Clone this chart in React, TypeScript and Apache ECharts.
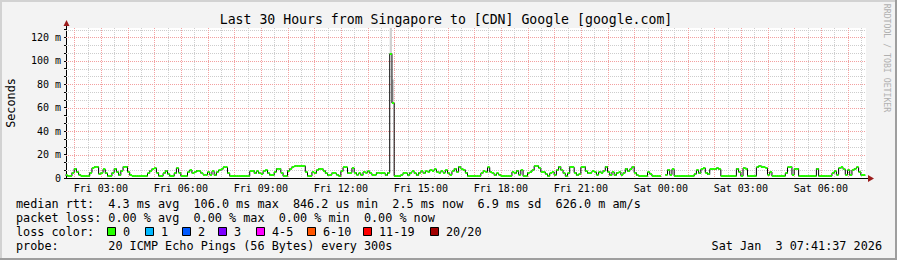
import React, { useEffect, useRef } from "react";
import * as echarts from "echarts";

const TITLE = "Last 30 Hours from Singapore to [CDN] Google [google.com]";
const Y_AXIS_NAME = "Seconds";
const WATERMARK = "RRDTOOL / TOBI OETIKER";

// time window in hours counted from Fri 00:00
const windowStartHour = 1 + 41 / 60 + 37 / 3600;
const windowHours = 30;
const firstSampleHour = 1 + 40 / 60;
const sampleStepMinutes = 5;

const xTickHours = [3, 6, 9, 12, 15, 18, 21, 24, 27, 30];
const xTickLabels = [
  "Fri 03:00", "Fri 06:00", "Fri 09:00", "Fri 12:00", "Fri 15:00",
  "Fri 18:00", "Fri 21:00", "Sat 00:00", "Sat 03:00", "Sat 06:00",
];
const yTickValues = [0, 20, 40, 60, 80, 100, 120];
const yTickLabels = ["0", "20 m", "40 m", "60 m", "80 m", "100 m", "120 m"];
const yMax = 128;

// median RTT in ms, one value per 5-minute sample
const medianMs: (number | null)[] = [
  2.5, 1.6, 1.6, 4.6, 8.0, 5.1, 2.8, 1.6, 1.6, 1.6,
  1.6, 4.6, 8.5, 9.5, 9.5, 3.4, 4.6, 7.4, 4.0, 1.6,
  1.6, 4.6, 8.0, 5.1, 2.3, 6.3, 9.7, 9.7, 5.1, 2.3,
  1.6, 1.6, 1.6, 1.6, 1.6, 1.6, 1.6, 4.0, 6.3, 8.0,
  8.5, 4.6, 1.6, 1.6, 4.0, 6.3, 3.4, 1.6, 1.6, 4.0,
  8.5, 4.6, 1.6, 1.6, 1.6, 5.1, 6.8, 4.0, 5.1, 6.3,
  5.7, 4.0, 2.8, 2.8, 5.1, 2.8, 5.7, 2.3, 5.1, 6.8,
  7.4, 9.1, 9.1, 4.0, 1.6, 1.6, 1.6, 1.6, 1.6, 1.6,
  1.6, 1.6, 1.6, 5.7, 6.3, 4.0, 5.7, 4.0, 3.4, 5.7,
  6.8, 4.0, 2.3, 2.3, 5.1, 8.0, 8.0, 4.6, 1.6, 1.6,
  6.3, 8.0, 9.7, 10.3, 10.3, 10.3, 10.3, 10.3, 5.1, 1.6,
  1.6, 5.1, 4.0, 6.8, 8.0, 8.0, 6.3, 4.0, 2.3, 2.8,
  4.6, 4.0, 2.8, 1.6, 5.7, 9.1, 9.1, 4.0, 4.6, 8.5,
  4.6, 2.8, 4.0, 2.3, 5.1, 4.6, 5.7, 4.0, 2.3, 2.8,
  4.6, 4.0, 4.0, 4.0, 2.3, 4.5, 106.0, 64.0, 1.6, 1.6,
  1.6, 2.8, 4.6, 4.0, 2.3, 4.6, 5.7, 4.0, 2.3, 4.6,
  5.7, 4.0, 5.7, 5.1, 6.8, 6.3, 7.4, 5.1, 4.6, 5.7,
  4.6, 6.8, 4.0, 2.8, 5.7, 8.0, 5.1, 9.7, 8.0, 7.0,
  4.6, 1.6, 1.6, 1.6, 1.6, 1.6, 1.6, 4.0, 5.7, 5.1,
  9.1, 5.1, 4.0, 2.3, 4.0, 2.8, 1.6, 1.6, 1.6, 1.6,
  1.6, 5.1, 4.0, 6.3, 2.8, 6.8, 1.6, 1.6, 4.6, 5.1,
  6.8, 10.3, 10.3, 8.5, 5.1, 5.1, 3.4, 1.6, 4.0, 5.1,
  2.5, 6.8, 9.7, 6.8, 4.0, 1.6, 4.0, 9.7, 9.1, 4.6,
  2.3, 3.4, 9.1, 9.7, 5.7, 4.0, 4.6, 5.7, 5.1, 2.8,
  5.1, 4.6, 6.3, 9.7, 5.1, 2.3, 5.1, 2.3, 4.6, 5.1,
  2.8, 4.6, 8.0, 5.7, 7.4, 9.7, 4.6, 2.3, 1.6, 1.6,
  1.6, 1.6, 5.1, 3.4, 1.6, 1.6, 1.6, 1.6, null, null,
  2.8, 7.0, 2.8, 7.4, 1.6, 1.6, 1.6, 1.6, 1.6, 1.6,
  1.6, 1.6, 1.6, 3.4, 6.8, 4.0, 7.4, 8.5, 4.6, 3.0,
  7.4, 7.4, 7.4, 8.5, 7.4, 1.6, 1.6, 1.6, 1.6, 1.6,
  1.6, 1.6, 8.0, 5.0, 1.6, 8.5, 8.0, 1.6, 1.6, 1.6,
  1.6, 9.1, 10.3, 9.7, 9.1, 8.5, 2.8, 5.1, 1.6, 1.6,
  1.6, 1.6, 1.6, 1.6, 4.0, 9.1, 9.7, 2.8, 8.0, 8.0,
  1.6, 1.6, 1.6, 1.6, 1.6, 1.6, 1.6, 1.6, 8.0, 1.6,
  1.6, 1.6, 1.6, 1.6, 1.6, 4.0, 5.7, 2.8, 8.5, 9.1,
  7.4, 2.8, 6.8, 2.3, 6.8, 8.0, 9.1, 5.1, 2.3, 2.3,
];

// smoke (spread of the pings) where it is visible
const smokeSamples = [146, 147];
const smokeLowMs = [106, 64];
const smokeHighMs = [140, 84];

const statsLine1 = ["median rtt:", "4.3 ms avg", "106.0 ms max", "846.2 us min", "2.5 ms now", "6.9 ms sd", "626.0 m am/s"];
const statsLine2 = ["packet loss:", "0.00 % avg", "0.00 % max", "0.00 % min", "0.00 % now"];
const lossTitle = "loss color:";
const lossLabels = ["0", "1", "2", "3", "4-5", "6-10", "11-19", "20/20"];
const lossColors = ["#26ff00", "#00b8ff", "#0059ff", "#7e00ff", "#ff00ff", "#ff5500", "#ff0000", "#a10000"];
const probeLabel = "probe:";
const probeText = "20 ICMP Echo Pings (56 Bytes) every 300s";
const timestampText = "Sat Jan  3 07:41:37 2026";

// layout
const W = 897;
const H = 260;
const PLOT_L = 66;
const PLOT_T = 28;
const PLOT_W = 800;
const PLOT_H = 150;
const MONO = "'DejaVu Sans Mono', 'Liberation Mono', monospace";
const LEG_FS = 11.8;
const CHAR_W = 7.1;
const LEG_X0 = 16;
const line1Col = [0, 13, 25, 39, 53, 65, 76];
const line2Col = [0, 13, 25, 37, 49];
const lossBoxX = [107, 145, 182, 218, 256, 307, 363, 430];
const legendRowY = [204, 218, 232, 246];

export default function App() {
  const ref = useRef<HTMLDivElement>(null);

  useEffect(() => {
    if (!ref.current) return;
    const chart = echarts.init(ref.current, undefined, { renderer: "svg" });

    const hourOf = (k: number) => firstSampleHour + (k * sampleStepMinutes) / 60;
    const windowEndHour = windowStartHour + windowHours;

    const stepLine: [number, number | null][] = medianMs.map((v, k) => [hourOf(k), v]);
    stepLine.push([hourOf(medianMs.length), medianMs[medianMs.length - 1]]);

    const segs = medianMs.map((v, k) => [hourOf(k), hourOf(k + 1), v == null ? NaN : v]);
    const smoke = smokeSamples.map((k, i) => [hourOf(k), hourOf(k + 1), smokeLowMs[i], smokeHighMs[i]]);

    // grid lines: [axis (0 = x, 1 = y), value, major]
    const gridLines: number[][] = [];
    for (let h = Math.ceil(windowStartHour * 2) / 2; h < windowEndHour; h += 0.5) {
      gridLines.push([0, h, Number.isInteger(h) ? 1 : 0]);
    }
    const yAllTicks: number[] = [0];
    for (let i = 1; i * (20 / 3) < yMax; i++) {
      const v = (i * 20) / 3;
      yAllTicks.push(v);
      gridLines.push([1, v, i % 3 === 0 ? 1 : 0]);
    }
    gridLines.sort((a, b) => a[2] - b[2]);

    const texts: any[] = [];
    const addText = (x: number, y: number, text: string, extra: any = {}) =>
      texts.push({
        type: "text",
        x,
        y,
        style: {
          text,
          fontFamily: MONO,
          fontSize: LEG_FS,
          fill: "#000",
          verticalAlign: "middle",
          textAlign: "left",
          ...extra,
        },
        silent: true,
      });

    addText(446, 19, TITLE, { textAlign: "center", fontSize: 13.2 });
    texts.push({
      type: "text",
      x: 11,
      y: 103,
      rotation: Math.PI / 2,
      style: { text: Y_AXIS_NAME, fontFamily: MONO, fontSize: LEG_FS, fill: "#000", textAlign: "center", verticalAlign: "middle" },
      silent: true,
    });
    texts.push({
      type: "text",
      x: 887,
      y: 58,
      rotation: -Math.PI / 2,
      style: { text: WATERMARK, fontFamily: MONO, fontSize: 8.2, fill: "#b0b0b0", textAlign: "center", verticalAlign: "middle" },
      silent: true,
    });

    statsLine1.forEach((t, i) => addText(LEG_X0 + line1Col[i] * CHAR_W, legendRowY[0], t));
    statsLine2.forEach((t, i) => addText(LEG_X0 + line2Col[i] * CHAR_W, legendRowY[1], t));
    addText(LEG_X0, legendRowY[2], lossTitle);
    lossLabels.forEach((t, i) => {
      const bx = lossBoxX[i];
      texts.push({
        type: "rect",
        shape: { x: bx + 0.5, y: legendRowY[2] - 4.5, width: 8, height: 8 },
        style: { fill: lossColors[i], stroke: "#000", lineWidth: 1 },
        silent: true,
      });
      addText(bx + 16, legendRowY[2], t);
    });
    addText(LEG_X0, legendRowY[3], probeLabel);
    addText(LEG_X0 + 13 * CHAR_W, legendRowY[3], probeText);
    addText(882, legendRowY[3], timestampText, { textAlign: "right" });

    // frame shading
    const frame = [
      { type: "rect", shape: { x: 0, y: 0, width: W, height: 2 }, style: { fill: "#d2d2d2" } },
      { type: "rect", shape: { x: 0, y: 0, width: 2, height: H }, style: { fill: "#d2d2d2" } },
      { type: "rect", shape: { x: 0, y: H - 2, width: W, height: 2 }, style: { fill: "#9e9e9e" } },
      { type: "rect", shape: { x: W - 2, y: 0, width: 2, height: H }, style: { fill: "#9e9e9e" } },
    ];

    // axis arrows
    const arrows = [
      { type: "line", shape: { x1: PLOT_L + 0.5, y1: PLOT_T, x2: PLOT_L + 0.5, y2: PLOT_T - 3 }, style: { stroke: "#000", lineWidth: 1 } },
      { type: "polygon", shape: { points: [[PLOT_L - 2.5, PLOT_T - 2], [PLOT_L + 3.5, PLOT_T - 2], [PLOT_L + 0.5, PLOT_T - 8]] }, style: { fill: "#9b1c1c" } },
      { type: "line", shape: { x1: PLOT_L + PLOT_W, y1: PLOT_T + PLOT_H + 0.5, x2: PLOT_L + PLOT_W + 3, y2: PLOT_T + PLOT_H + 0.5 }, style: { stroke: "#000", lineWidth: 1 } },
      { type: "polygon", shape: { points: [[PLOT_L + PLOT_W + 2, PLOT_T + PLOT_H - 3], [PLOT_L + PLOT_W + 2, PLOT_T + PLOT_H + 4], [PLOT_L + PLOT_W + 8, PLOT_T + PLOT_H + 0.5]] }, style: { fill: "#9b1c1c" } },
    ];

    const option: any = {
      animation: false,
      backgroundColor: "#f3f3f3",
      grid: {
        left: PLOT_L,
        top: PLOT_T,
        width: PLOT_W,
        height: PLOT_H,
        show: true,
        backgroundColor: "#ffffff",
        borderWidth: 0,
      },
      xAxis: {
        type: "value",
        min: windowStartHour,
        max: windowEndHour,
        axisLine: { show: true, onZero: false, lineStyle: { color: "#000", width: 1 } },
        axisTick: { show: false },
        splitLine: { show: false },
        axisLabel: {
          customValues: xTickHours,
          formatter: (v: number) => {
            const i = xTickHours.findIndex((h) => Math.abs(h - v) < 1e-6);
            return i >= 0 ? xTickLabels[i] : "";
          },
          fontFamily: MONO,
          fontSize: 10,
          color: "#000",
          margin: 5,
        },
      },
      yAxis: {
        type: "value",
        min: 0,
        max: yMax,
        axisLine: { show: true, lineStyle: { color: "#000", width: 1 } },
        axisTick: { show: true, customValues: yAllTicks, length: 2, lineStyle: { color: "#000" } },
        splitLine: { show: false },
        axisLabel: {
          customValues: yTickValues,
          formatter: (v: number) => {
            const i = yTickValues.findIndex((t) => Math.abs(t - v) < 1e-6);
            return i >= 0 ? yTickLabels[i] : "";
          },
          fontFamily: MONO,
          fontSize: 10,
          color: "#000",
          margin: 5,
        },
      },
      graphic: [...frame, ...arrows, ...texts],
      series: [
        {
          type: "custom",
          z: 1,
          silent: true,
          clip: false,
          data: gridLines,
          renderItem: (params: any, api: any) => {
            const cs = params.coordSys;
            const axis = api.value(0);
            const v = api.value(1);
            const major = api.value(2) === 1;
            const stroke = major ? "#f3a0a0" : "#cdcdcd";
            if (axis === 0) {
              const p = api.coord([v, 0]);
              const x = Math.round(p[0]) + 0.5;
              return {
                type: "line",
                shape: { x1: x, y1: cs.y, x2: x, y2: cs.y + cs.height },
                style: { stroke, lineWidth: 1, lineDash: [1, 1] },
              };
            }
            const p = api.coord([windowStartHour, v]);
            const y = Math.round(p[1]) + 0.5;
            return {
              type: "line",
              shape: { x1: cs.x, y1: y, x2: cs.x + cs.width, y2: y },
              style: { stroke, lineWidth: 1, lineDash: [1, 1] },
            };
          },
        },
        {
          type: "custom",
          z: 2,
          clip: true,
          silent: true,
          encode: { x: [0, 1], y: [2, 3] },
          data: smoke,
          renderItem: (_p: any, api: any) => {
            const a = api.coord([api.value(0), api.value(3)]);
            const b = api.coord([api.value(1), api.value(2)]);
            return { type: "rect", shape: { x: a[0], y: a[1], width: b[0] - a[0], height: b[1] - a[1] }, style: { fill: "#d0d0d0" } };
          },
        },
        {
          type: "line",
          z: 3,
          step: "end",
          data: stepLine,
          showSymbol: false,
          connectNulls: false,
          silent: true,
          lineStyle: { color: "#000", width: 1 },
        },
        {
          type: "custom",
          z: 4,
          clip: true,
          silent: true,
          encode: { x: [0, 1], y: 2 },
          data: segs,
          renderItem: (_p: any, api: any) => {
            const v = api.value(2);
            if (v == null || isNaN(v)) return null;
            const a = api.coord([api.value(0), v]);
            const b = api.coord([api.value(1), v]);
            return { type: "rect", shape: { x: a[0], y: Math.round(a[1] - 1), width: b[0] - a[0], height: 2 }, style: { fill: lossColors[0] } };
          },
        },
      ],
    };

    chart.setOption(option);
    return () => chart.dispose();
  }, []);

  return (
    <div
      ref={ref}
      style={{ position: "absolute", left: 0, top: 0, width: W, height: H }}
    />
  );
}
